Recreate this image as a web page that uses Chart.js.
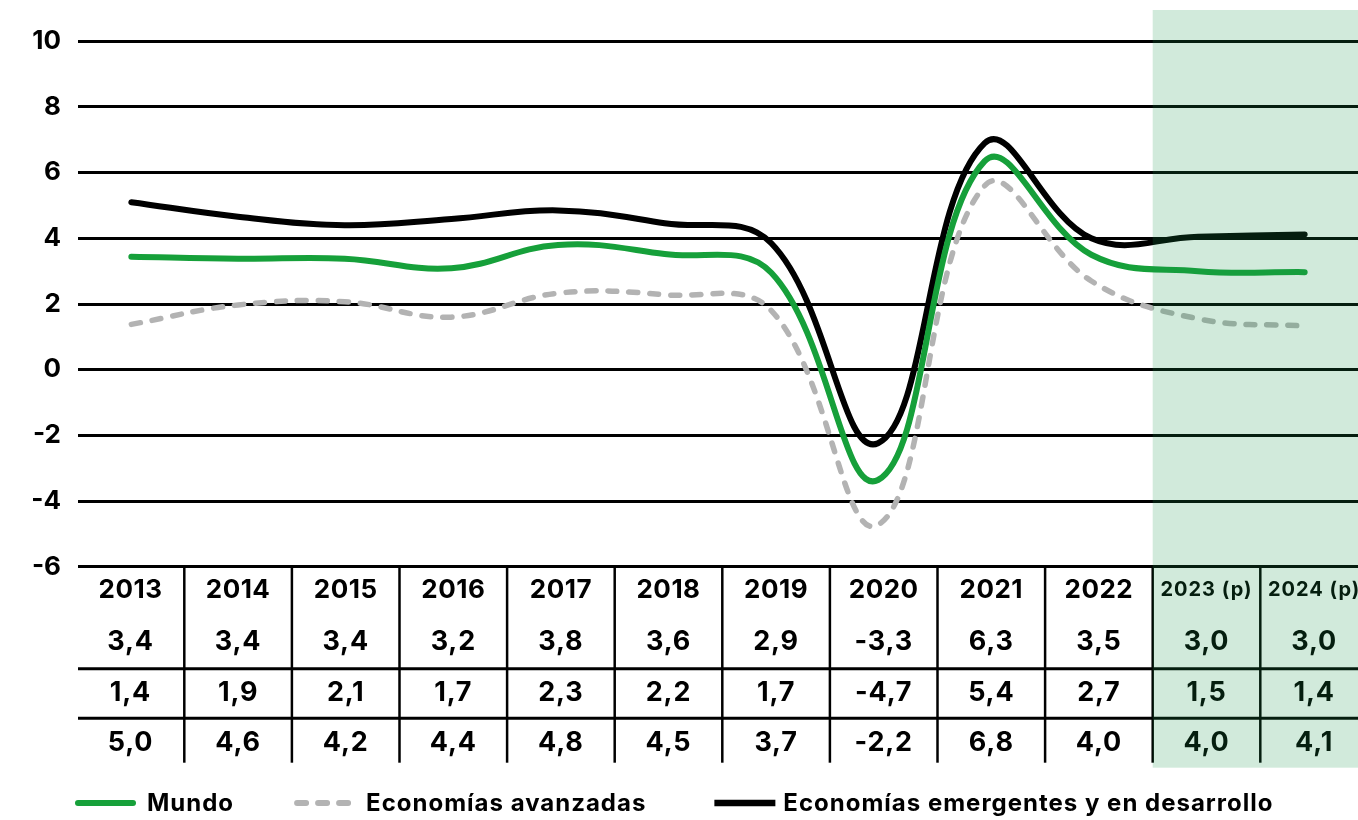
<!DOCTYPE html>
<html>
<head>
<meta charset="utf-8">
<script src="https://cdn.jsdelivr.net/npm/chart.js@4.4.0/dist/chart.umd.min.js"></script>
<style>
  html, body { margin: 0; padding: 0; background: #fff; overflow: hidden; }
  #wrap { width: 1358px; height: 820px; position: relative; }
</style>
</head>
<body>
<div id="wrap"><canvas id="c" width="1358" height="820"></canvas></div>
<script>
// ---- data ----
const years = ['2013','2014','2015','2016','2017','2018','2019','2020','2021','2022','2023 (p)','2024 (p)'];
// values printed in the table under the chart
const tablaMundo      = [3.4, 3.4, 3.4, 3.2, 3.8, 3.6, 2.9, -3.3, 6.3, 3.5, 3.0, 3.0];
const tablaAvanzadas  = [1.4, 1.9, 2.1, 1.7, 2.3, 2.2, 1.7, -4.7, 5.4, 2.7, 1.5, 1.4];
const tablaEmergentes = [5.0, 4.6, 4.2, 4.4, 4.8, 4.5, 3.7, -2.2, 6.8, 4.0, 4.0, 4.1];
// values
const lineaMundo      = [3.44, 3.38, 3.38, 3.09, 3.80, 3.52, 2.95, -3.36, 6.35, 3.5, 3.0, 2.97];
const lineaAvanzadas  = [1.38, 1.97, 2.07, 1.60, 2.33, 2.28, 1.80, -4.73, 5.60, 2.7, 1.55, 1.33];
const lineaEmergentes = [5.10, 4.66, 4.40, 4.59, 4.85, 4.46, 3.85, -2.24, 6.90, 4.0, 4.05, 4.12];
const yMin = -6, yMax = 10, yStep = 2;
const seriesNames = ['Mundo', 'Economías avanzadas', 'Economías emergentes y en desarrollo'];
const forecastFrom = 10; // index of first projected year

// ---- styles ----
const FONT = 'Inter, "Open Sans", sans-serif';
const GREEN = '#16a03a';
const GRAY = '#b3b3b3';
const BLACK = '#000000';

const fmt = v => v.toFixed(1).replace('.', ',');

const tablePlugin = {
  id: 'tablePlugin',
  afterDraw(chart) {
    const ctx = chart.ctx;
    const ca = chart.chartArea;
    const colW = 107.6;
    const left0 = ca.left - 1.3;
    const top = ca.bottom;
    const W = chart.width;
    ctx.save();
    // row separator lines
    ctx.strokeStyle = '#000';
    ctx.lineWidth = 3;
    [102, 151.6].forEach(dy => {
      ctx.beginPath();
      ctx.moveTo(ca.left, top + dy);
      ctx.lineTo(W, top + dy);
      ctx.stroke();
    });
    // column separators
    ctx.lineWidth = 2.5;
    for (let k = 1; k < years.length; k++) {
      const x = left0 + colW * k;
      ctx.beginPath();
      ctx.moveTo(x, top);
      ctx.lineTo(x, top + 196);
      ctx.stroke();
    }
    // texts
    ctx.fillStyle = '#000';
    ctx.textAlign = 'center';
    ctx.textBaseline = 'middle';
    const rows = [tablaMundo, tablaAvanzadas, tablaEmergentes];
    const rowY = [75, 126.6, 176.6];
    years.forEach((yr, i) => {
      const cx = left0 + colW * (i + 0.5);
      if (i >= forecastFrom) {
        ctx.font = 'bold 20px ' + FONT;
        ctx.letterSpacing = '1px';
      } else {
        ctx.font = 'bold 26px ' + FONT;
        ctx.letterSpacing = '0.5px';
      }
      ctx.fillText(yr, cx, top + 23.5);
      ctx.font = 'bold 27px ' + FONT;
      ctx.letterSpacing = '0.8px';
      rows.forEach((r, j) => ctx.fillText(fmt(r[i]), cx, top + rowY[j]));
    });
    ctx.letterSpacing = '0px';
    // projection band overlay
    const bx = left0 + colW * forecastFrom;
    ctx.fillStyle = 'rgba(25,150,75,0.2)';
    ctx.fillRect(bx, 10, W - bx, top + 201 - 10);

    // legend
    const ly = 803;
    const items = [
      { label: seriesNames[0], color: GREEN, dash: [], cap: 'round', w: 6 },
      { label: seriesNames[1], color: GRAY, dash: [9, 12], cap: 'round', w: 6 },
      { label: seriesNames[2], color: BLACK, dash: [], cap: 'butt', w: 6.5 }
    ];
    ctx.font = 'bold 24px ' + FONT;
    ctx.letterSpacing = '1px';
    ctx.textAlign = 'left';
    ctx.textBaseline = 'middle';
    const gaps = [60, 68];
    let x = 75;
    items.forEach((it, i) => {
      ctx.beginPath();
      ctx.strokeStyle = it.color;
      ctx.lineWidth = it.w;
      ctx.lineCap = it.cap;
      ctx.setLineDash(it.dash);
      const inset = it.cap === 'round' ? 3 : 0;
      ctx.moveTo(x + inset, ly);
      ctx.lineTo(x + 61 - inset, ly);
      ctx.stroke();
      ctx.setLineDash([]);
      ctx.fillStyle = '#000';
      const tx = x + 61 + (i === 2 ? 8 : 11);
      ctx.fillText(it.label, tx, ly + 1);
      x = tx + ctx.measureText(it.label).width + (gaps[i] || 0);
    });
    ctx.restore();
  }
};

new Chart(document.getElementById('c'), {
  type: 'line',
  data: {
    labels: years,
    datasets: [
      { label: seriesNames[0], data: lineaMundo, borderColor: GREEN, borderWidth: 6, borderCapStyle: 'round', borderJoinStyle: 'round' },
      { label: seriesNames[1], data: lineaAvanzadas, borderColor: GRAY, borderWidth: 5.5, borderDash: [9, 12], borderCapStyle: 'round' },
      { label: seriesNames[2], data: lineaEmergentes, borderColor: BLACK, borderWidth: 6, borderCapStyle: 'round' }
    ]
  },
  options: {
    responsive: false,
    animation: false,
    devicePixelRatio: 1,
    layout: { padding: { top: 41.3, bottom: 253.3, left: 0, right: 0 } },
    elements: { point: { radius: 0, hoverRadius: 0 }, line: { tension: 0.4, fill: false } },
    plugins: { legend: { display: false }, tooltip: { enabled: false } },
    scales: {
      x: { display: false, offset: true },
      y: {
        min: yMin, max: yMax,
        afterFit(s) { s.width = 78; },
        border: { display: false },
        grid: { color: '#000', lineWidth: 3, drawTicks: false },
        ticks: {
          stepSize: yStep,
          padding: 17,
          color: '#000',
          font: { family: FONT, size: 26, weight: 'bold' },
          callback: v => String(v)
        }
      }
    }
  },
  plugins: [tablePlugin]
});
</script>
</body>
</html>
